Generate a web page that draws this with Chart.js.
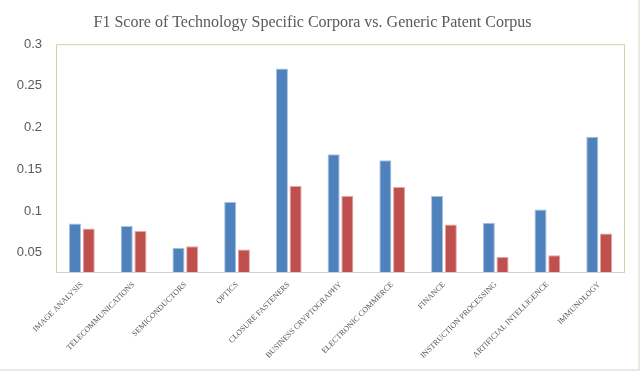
<!DOCTYPE html>
<html>
<head>
<meta charset="utf-8">
<script src="https://cdn.jsdelivr.net/npm/chart.js@4"></script>
<style>
  html, body { margin: 0; padding: 0; background: #fff; }
  #wrap { position: relative; width: 638px; height: 369px; border-right: 2px solid #ebe8df; border-bottom: 2px solid #ebe8df; }
  canvas { display: block; }
</style>
</head>
<body>
<div id="wrap"><canvas id="chart" width="638" height="369"></canvas></div>
<script>
// Chart values
const categories = [
    "IMAGE ANALYSIS", "TELECOMMUNICATIONS", "SEMICONDUCTORS", "OPTICS",
    "CLOSURE FASTENERS", "BUSINESS CRYPTOGRAPHY", "ELECTRONIC COMMERCE",
    "FINANCE", "INSTRUCTION PROCESSING", "ARTIFICIAL INTELLIGENCE", "IMMUNOLOGY"
];
const specificScores = [0.085, 0.082, 0.056, 0.111, 0.271, 0.168, 0.161, 0.118, 0.086, 0.102, 0.189];
const genericScores = [0.079, 0.076, 0.058, 0.054, 0.130, 0.118, 0.129, 0.084, 0.045, 0.047, 0.073];
const yTicks = [0.05, 0.1, 0.15, 0.2, 0.25, 0.3];

// plot area frame like the Excel original
const plotFrame = {
    id: "plotFrame",
    afterDraw(chart) {
        const { ctx, chartArea: a } = chart;
        ctx.save();
        ctx.lineWidth = 1;
        ctx.strokeStyle = "#d6cfa6";
        ctx.beginPath();
        ctx.moveTo(a.left + 0.5, a.bottom);
        ctx.lineTo(a.left + 0.5, a.top + 0.5);
        ctx.lineTo(a.right - 0.5, a.top + 0.5);
        ctx.lineTo(a.right - 0.5, a.bottom);
        ctx.stroke();
        ctx.strokeStyle = "#d0d0d0";
        ctx.beginPath();
        ctx.moveTo(a.left, a.bottom + 0.5);
        ctx.lineTo(a.right, a.bottom + 0.5);
        ctx.stroke();
        ctx.restore();
    }
};

new Chart(document.getElementById("chart").getContext("2d"), {
    type: "bar",
    data: {
        labels: categories,
        datasets: [{
            label: "Technology Specific Corpora",
            data: specificScores,
            backgroundColor: "#4f81bd",
            borderColor: "#a9c2e3",
            borderWidth: 1
        }, {
            label: "Generic Patent Corpus",
            data: genericScores,
            backgroundColor: "#c0504d",
            borderColor: "#e4a6a4",
            borderWidth: 1
        }]
    },
    options: {
        responsive: false,
        animation: false,
        layout: { padding: { top: 0, left: 0, right: 13, bottom: 0 } },
        datasets: { bar: { barPercentage: 0.88, categoryPercentage: 0.53 } },
        plugins: {
            legend: { display: false },
            tooltip: { enabled: false },
            title: {
                display: true,
                text: "F1 Score of Technology Specific Corpora vs. Generic Patent Corpus",
                color: "#595959",
                font: { family: "Liberation Serif", size: 16, weight: "normal" },
                padding: { top: 13, bottom: 12 }
            }
        },
        scales: {
            x: {
                grid: { display: false, drawTicks: false },
                border: { display: false },
                ticks: {
                    color: "#595959",
                    font: { family: "Liberation Serif", size: 8 },
                    minRotation: 45,
                    maxRotation: 45,
                    autoSkip: false,
                    padding: 8
                },
                afterFit(scale) { scale.height = 97; }
            },
            y: {
                min: 0.027,
                max: 0.3,
                grid: { display: false, drawTicks: false },
                border: { display: false },
                afterBuildTicks(scale) {
                    scale.ticks = yTicks.map(v => ({ value: v }));
                },
                ticks: {
                    color: "#595959",
                    font: { family: "Liberation Sans", size: 13 },
                    padding: 14,
                    callback: v => String(v)
                },
                afterFit(scale) { scale.width = 56; }
            }
        }
    },
    plugins: [plotFrame]
});
</script>
</body>
</html>
